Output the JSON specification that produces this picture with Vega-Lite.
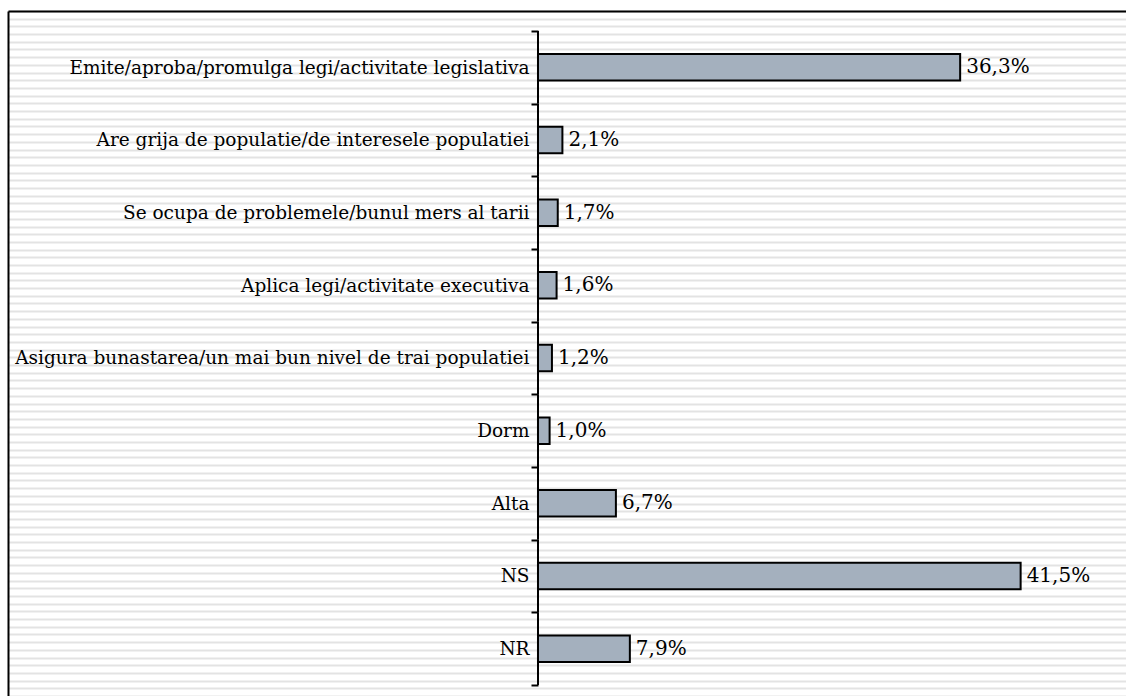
{
  "$schema": "https://vega.github.io/schema/vega-lite/v6.json",
  "width": 1118,
  "height": 685,
  "autosize": {"type": "none"},
  "padding": {"left": 8, "top": 11, "right": 0, "bottom": 0},
  "background": "white",
  "config": {"view": {"stroke": null}, "font": "DejaVu Serif"},
  "data": {
    "values": [
      {"category": "Emite/aproba/promulga legi/activitate legislativa", "value": 36.3, "label": "36,3%"},
      {"category": "Are grija de populatie/de interesele populatiei", "value": 2.1, "label": "2,1%"},
      {"category": "Se ocupa de problemele/bunul mers al tarii", "value": 1.7, "label": "1,7%"},
      {"category": "Aplica legi/activitate executiva", "value": 1.6, "label": "1,6%"},
      {"category": "Asigura bunastarea/un mai bun nivel de trai populatiei", "value": 1.2, "label": "1,2%"},
      {"category": "Dorm", "value": 1.0, "label": "1,0%"},
      {"category": "Alta", "value": 6.7, "label": "6,7%"},
      {"category": "NS", "value": 41.5, "label": "41,5%"},
      {"category": "NR", "value": 7.9, "label": "7,9%"}
    ]
  },
  "layer": [
    {
      "mark": {"type": "point", "opacity": 0},
      "encoding": {
        "y": {
          "datum": 0,
          "type": "quantitative",
          "scale": {"domain": [0, 89], "nice": false, "zero": false},
          "axis": {
            "orient": "left",
            "grid": true,
            "gridColor": "#e3e3e3",
            "gridWidth": 2,
            "tickCount": 89,
            "labels": false,
            "ticks": false,
            "domain": true,
            "domainColor": "black",
            "domainWidth": 2,
            "title": null
          }
        }
      }
    },
    {
      "layer": [
        {
          "mark": {"type": "bar", "fill": "#a4b0be", "stroke": "black", "strokeWidth": 2, "height": {"band": 0.365}},
          "encoding": {
            "y": {
              "field": "category",
              "type": "nominal",
              "sort": null,
              "scale": {"paddingInner": 0, "paddingOuter": 0.2133, "align": 0.645},
              "axis": {
                "orient": "left",
                "offset": -530,
                "title": null,
                "domain": false,
                "tickBand": "extent",
                "tickSize": 7,
                "tickWidth": 2,
                "tickColor": "black",
                "labelFont": "DejaVu Serif",
                "labelFontSize": 18.5,
                "labelColor": "black",
                "labelPadding": 2,
                "labelLimit": 0
              }
            },
            "x": {
              "field": "value",
              "type": "quantitative",
              "scale": {"domain": [-45.57, 50.56], "nice": false, "zero": false},
              "axis": {
                "orient": "top",
                "title": null,
                "labels": false,
                "ticks": false,
                "grid": false,
                "domain": true,
                "domainColor": "black",
                "domainWidth": 2
              }
            },
            "x2": {"datum": 0}
          }
        },
        {
          "mark": {"type": "rule", "color": "black", "strokeWidth": 2},
          "encoding": {
            "x": {"datum": 0, "type": "quantitative"},
            "y": {"field": "category", "type": "nominal", "sort": null, "bandPosition": 0},
            "y2": {"field": "category", "bandPosition": 1}
          }
        },
        {
          "mark": {"type": "text", "align": "left", "baseline": "middle", "dx": 6, "font": "DejaVu Serif", "fontSize": 20, "color": "black"},
          "encoding": {
            "y": {"field": "category", "type": "nominal", "sort": null},
            "x": {"field": "value", "type": "quantitative"},
            "text": {"field": "label"}
          }
        }
      ]
    }
  ],
  "resolve": {"scale": {"y": "independent"}, "axis": {"y": "independent"}}
}
